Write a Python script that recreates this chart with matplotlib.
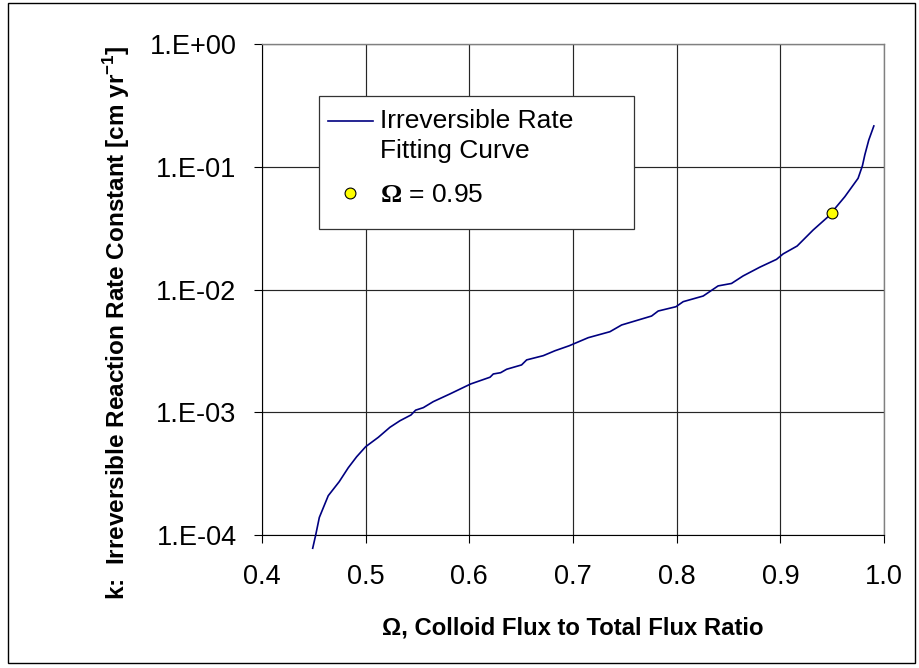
import numpy as np
import matplotlib
matplotlib.use("Agg")
import matplotlib.pyplot as plt
from matplotlib.patches import Rectangle
from matplotlib.ticker import FixedLocator, FuncFormatter, NullLocator
from matplotlib.legend_handler import HandlerLine2D

plt.rcParams['font.family'] = ['Liberation Sans', 'DejaVu Sans']
plt.rcParams['mathtext.fontset'] = 'custom'
plt.rcParams['mathtext.rm'] = 'Liberation Sans'
plt.rcParams['mathtext.bf'] = 'Liberation Serif:bold'
plt.rcParams['mathtext.sf'] = 'Liberation Sans:bold'

# ---- data ----
omega = [0.4489, 0.4518, 0.4553, 0.4639, 0.4745, 0.4832, 0.4913, 0.5000, 0.5122,
         0.5234, 0.5331, 0.5437, 0.5482, 0.5556, 0.5652, 0.5813, 0.6013, 0.6200,
         0.6231, 0.6302, 0.6360, 0.6504, 0.6553, 0.6713, 0.6826, 0.6963, 0.7147,
         0.7356, 0.7469, 0.7758, 0.7822, 0.7993, 0.8063, 0.8256, 0.8400, 0.8529,
         0.8641, 0.8802, 0.8963, 0.9027, 0.9162, 0.9316, 0.9461, 0.9622, 0.9750,
         0.9792, 0.9815, 0.9853, 0.9902]
k_rate = [7.8e-5, 1.0e-4, 1.39e-4, 2.09e-4, 2.72e-4, 3.53e-4, 4.34e-4, 5.24e-4, 6.25e-4,
          7.54e-4, 8.53e-4, 9.50e-4, 1.04e-3, 1.09e-3, 1.22e-3, 1.41e-3, 1.70e-3, 1.93e-3,
          2.05e-3, 2.10e-3, 2.24e-3, 2.43e-3, 2.67e-3, 2.89e-3, 3.17e-3, 3.48e-3, 4.05e-3,
          4.53e-3, 5.14e-3, 6.08e-3, 6.68e-3, 7.24e-3, 7.96e-3, 8.85e-3, 1.07e-2, 1.12e-2,
          1.29e-2, 1.52e-2, 1.76e-2, 1.95e-2, 2.26e-2, 3.05e-2, 3.92e-2, 5.70e-2, 8.05e-2,
          1.02e-1, 1.25e-1, 1.65e-1, 2.15e-1]
point_omega = [0.95]
point_k = [0.042]

x_ticks = [0.4, 0.5, 0.6, 0.7, 0.8, 0.9, 1.0]
y_ticks = [1e-4, 1e-3, 1e-2, 1e-1, 1e0]

line_label = "Irreversible Rate\nFitting Curve"
point_label = r"$\mathbf{\Omega}$ = 0.95"
x_label = "\u03a9, Colloid Flux to Total Flux Ratio"
y_label = r"k:  Irreversible Reaction Rate Constant [cm yr$^{\mathsf{-1}}$]"


class ShiftedLineHandler(HandlerLine2D):
    def __init__(self, shift, **kw):
        super().__init__(**kw)
        self.shift = shift

    def create_artists(self, legend, orig_handle, xdescent, ydescent, width, height,
                       fontsize, trans):
        arts = super().create_artists(legend, orig_handle, xdescent, ydescent, width,
                                      height, fontsize, trans)
        for a in arts:
            a.set_ydata(np.asarray(a.get_ydata(), dtype=float) + self.shift)
        return arts


W, H = 920, 668
fig = plt.figure(figsize=(W / 100, H / 100), dpi=100)
ax = fig.add_axes([262 / W, 1 - 535 / H, (884 - 262) / W, (535 - 44) / H])
ax.set_yscale('log')
ax.set_xlim(0.4, 1.0)
ax.set_ylim(1e-4, 1.0)

ax.xaxis.set_major_locator(FixedLocator(x_ticks))
ax.yaxis.set_major_locator(FixedLocator(y_ticks))
ax.yaxis.set_minor_locator(NullLocator())
ax.xaxis.set_minor_locator(NullLocator())
ax.xaxis.set_major_formatter(FuncFormatter(lambda v, p: f"{v:.1f}"))
ax.yaxis.set_major_formatter(FuncFormatter(lambda v, p: f"1.E{int(round(np.log10(v))):+03d}"))

ax.grid(True, which='major', color='#262626', linewidth=0.85)
ax.set_axisbelow(True)
ax.tick_params(axis='both', direction='out', length=5.8, width=0.8, colors='black',
               labelsize=19.5)
ax.tick_params(axis='y', pad=12.5)
ax.tick_params(axis='x', pad=15.0)
for s in ['left', 'bottom']:
    ax.spines[s].set_color('black')
    ax.spines[s].set_linewidth(0.8)
for s in ['top', 'right']:
    ax.spines[s].set_color('#808080')
    ax.spines[s].set_linewidth(1.0)

ln, = ax.plot(omega, k_rate, color='#000080', linewidth=1.2, zorder=4, label=line_label,
              clip_on=False)
pt, = ax.plot(point_omega, point_k, linestyle='none', marker='o', markersize=7.8,
              markerfacecolor='#FFFF00', markeredgecolor='black', markeredgewidth=0.8,
              zorder=5, label=point_label)

# legend frame
ax.add_patch(Rectangle((0.0921, 0.6232), 0.5986 - 0.0921, 0.8947 - 0.6232,
                       transform=ax.transAxes, facecolor='white', edgecolor='#333333',
                       linewidth=0.9, zorder=6))
leg = ax.legend(handles=[ln, pt], loc='upper left', bbox_to_anchor=(0.1056, 0.868),
                frameon=False, borderpad=0, borderaxespad=0, fontsize=19,
                handlelength=1.7, handletextpad=0.3, labelspacing=0.75, markerscale=1.0,
                handler_map={ln: ShiftedLineHandler(shift=11.0)})
for t in leg.get_texts():
    t.set_linespacing(1.33)
leg.set_zorder(7)

fig.text(573 / W, 1 - 635 / H, x_label, ha='center', va='baseline',
         fontsize=17.2, fontweight='bold')
fig.text(117 / W, 1 - 323 / H, y_label, ha='center', va='center', rotation=90,
         fontsize=17.5, fontweight='bold')

fig.add_artist(Rectangle((8 / W, 5 / H), (915 - 8) / W, (663 - 3) / H,
                         transform=fig.transFigure, fill=False, edgecolor='black',
                         linewidth=1.0))

fig.savefig('out.png', dpi=100)
